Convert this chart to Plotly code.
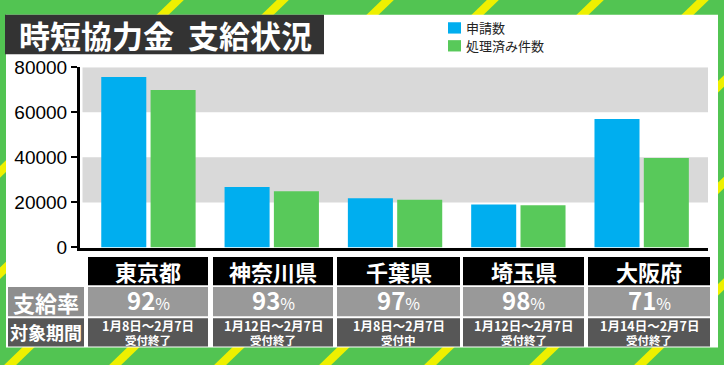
import plotly.graph_objects as go

# ---------------- data ----------------
categories = ["東京都", "神奈川県", "千葉県", "埼玉県", "大阪府"]
applications = [75700, 26900, 21800, 19100, 57000]   # 申請数
processed = [69900, 25000, 21200, 18700, 39700]      # 処理済み件数
series_names = ["申請数", "処理済み件数"]
pay_rates = [92, 93, 97, 98, 71]                     # 支給率 (%)
periods = ["1月8日～2月7日", "1月12日～2月7日", "1月8日～2月7日", "1月12日～2月7日", "1月14日～2月7日"]
statuses = ["受付終了", "受付終了", "受付中", "受付終了", "受付終了"]
row_labels = ["支給率", "対象期間"]
title_text = "時短協力金  支給状況"
y_ticks = [0, 20000, 40000, 60000, 80000]

# ---------------- style ----------------
W, H = 724, 365
BLUE = "#00aeef"
GREEN = "#58c95a"
BORDER_GREEN = "#52c452"
YELLOW = "#eef000"
JP = "Noto Sans CJK JP"


def px(x):
    return x / W


def py(y):
    return 1 - y / H


fig = go.Figure()
fig.add_trace(go.Bar(x=categories, y=applications, name=series_names[0],
                     marker=dict(color=BLUE, line=dict(width=0)), showlegend=False))
fig.add_trace(go.Bar(x=categories, y=processed, name=series_names[1],
                     marker=dict(color=GREEN, line=dict(width=0)), showlegend=False))

shapes = []
annotations = []

# yellow diagonal stripes on the green frame
for k in range(-2, 12):
    c = 6 + 105 * k
    path = f"M{px(c - 10)},{py(H + 20)} L{px(c + 385)},{py(-20)} L{px(c + 397)},{py(-20)} L{px(c + 2)},{py(H + 20)} Z"
    shapes.append(dict(type="path", xref="paper", yref="paper", path=path,
                       fillcolor=YELLOW, line=dict(width=0), layer="below"))

# white panel
shapes.append(dict(type="rect", xref="paper", yref="paper",
                   x0=px(6), x1=px(718), y0=py(358), y1=py(5),
                   fillcolor="white", line=dict(width=0), layer="below"))

# grey bands in the plot
for lo, hi in [(20000, 40000), (60000, 80000)]:
    shapes.append(dict(type="rect", xref="x domain", yref="y", x0=0.004, x1=1,
                       y0=lo, y1=hi, fillcolor="#d9d9d9", line=dict(width=0), layer="below"))

# title box
shapes.append(dict(type="rect", xref="paper", yref="paper",
                   x0=px(5), x1=px(324), y0=py(47), y1=py(5),
                   fillcolor="#333333", line=dict(width=0), layer="above"))
annotations.append(dict(text=f"<b>{title_text}</b>", xref="paper", yref="paper",
                        x=px(165), y=py(26), xanchor="center", yanchor="middle",
                        showarrow=False, font=dict(family=JP, size=31, color="white")))

# manual legend
for i, (name, col) in enumerate(zip(series_names, [BLUE, GREEN])):
    y0 = 13 + 19 * i
    shapes.append(dict(type="rect", xref="paper", yref="paper",
                       x0=px(448), x1=px(461), y0=py(y0 + 12), y1=py(y0),
                       fillcolor=col, line=dict(width=0), layer="above"))
    annotations.append(dict(text=name, xref="paper", yref="paper",
                            x=px(464), y=py(y0 + 6), xanchor="left", yanchor="middle",
                            showarrow=False, font=dict(family=JP, size=13, color="#222222")))

# table
col_left = [88, 213, 337, 463, 588]
col_w = [120, 120, 123, 121, 122]
rows = [(262, 292, "#000000"), (294, 325, "#999999"), (327, 357, "#575757")]

# row label cells
shapes.append(dict(type="rect", xref="paper", yref="paper", x0=px(8), x1=px(84),
                   y0=py(325), y1=py(294), fillcolor="#8e8e8e", line=dict(width=0), layer="above"))
shapes.append(dict(type="rect", xref="paper", yref="paper", x0=px(8), x1=px(84),
                   y0=py(357), y1=py(327), fillcolor="#575757", line=dict(width=0), layer="above"))
annotations.append(dict(text=f"<b>{row_labels[0]}</b>", xref="paper", yref="paper",
                        x=px(46), y=py(309.5), xanchor="center", yanchor="middle",
                        showarrow=False, font=dict(family=JP, size=22, color="white")))
annotations.append(dict(text=f"<b>{row_labels[1]}</b>", xref="paper", yref="paper",
                        x=px(46), y=py(342), xanchor="center", yanchor="middle",
                        showarrow=False, font=dict(family=JP, size=18, color="white")))

for i, cat in enumerate(categories):
    l = col_left[i]
    r = l + col_w[i]
    cx = (l + r) / 2
    for (t, b, colr) in rows:
        shapes.append(dict(type="rect", xref="paper", yref="paper", x0=px(l), x1=px(r),
                           y0=py(b), y1=py(t), fillcolor=colr, line=dict(width=0), layer="above"))
    annotations.append(dict(text=f"<b>{cat}</b>", xref="paper", yref="paper",
                            x=px(cx), y=py(277), xanchor="center", yanchor="middle",
                            showarrow=False, font=dict(family=JP, size=22, color="white")))
    annotations.append(dict(text=f"<b>{pay_rates[i]}</b><span style='font-size:16px'>%</span>",
                            xref="paper", yref="paper",
                            x=px(cx), y=py(307.5), xanchor="center", yanchor="middle",
                            showarrow=False, font=dict(family=JP, size=24, color="white")))
    annotations.append(dict(text=f"<b>{periods[i]}</b>", xref="paper", yref="paper",
                            x=px(cx), y=py(334.5), xanchor="center", yanchor="middle",
                            showarrow=False, font=dict(family=JP, size=12.5, color="white")))
    annotations.append(dict(text=f"<b>{statuses[i]}</b>", xref="paper", yref="paper",
                            x=px(cx), y=py(350.5), xanchor="center", yanchor="middle",
                            showarrow=False, font=dict(family=JP, size=11.5, color="white")))

fig.update_layout(
    width=W, height=H,
    margin=dict(l=0, r=0, t=0, b=0),
    paper_bgcolor=BORDER_GREEN,
    plot_bgcolor="rgba(0,0,0,0)",
    barmode="group",
    bargap=0.2,
    bargroupgap=0.087,
    shapes=shapes,
    annotations=annotations,
    showlegend=False,
    xaxis=dict(domain=[px(80), px(708)], range=[-0.555, 4.538], showticklabels=False,
               showline=True, linecolor="black", linewidth=3, ticks="", showgrid=False,
               zeroline=False, fixedrange=True),
    yaxis=dict(domain=[py(252), py(60.7)], range=[0, 80000], tickvals=y_ticks,
               ticktext=[str(v) for v in y_ticks],
               showline=True, linecolor="black", linewidth=3, ticks="outside",
               ticklen=6, tickwidth=2, tickcolor="black", showgrid=False, zeroline=False,
               tickfont=dict(family="Liberation Sans, Arial", size=19, color="black"),
               fixedrange=True),
)

fig.write_html("out.html", config={"displayModeBar": False},
               post_script="document.body.style.margin='0px';")
